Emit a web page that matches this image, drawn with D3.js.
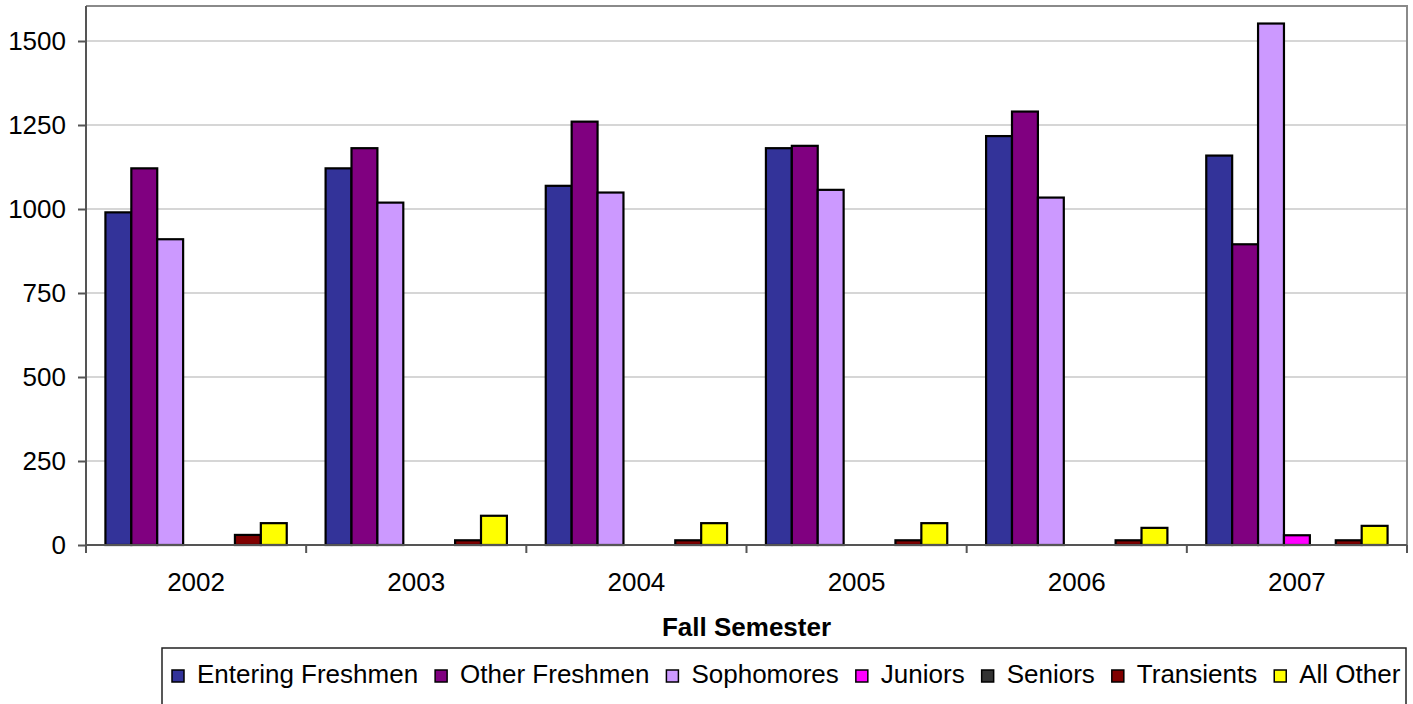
<!DOCTYPE html>
<html>
<head>
<meta charset="utf-8">
<script src="https://cdn.jsdelivr.net/npm/d3@7"></script>
<style>
  html, body { margin: 0; padding: 0; background: #ffffff; }
  svg { display: block; font-family: "Liberation Sans", Arial, sans-serif; }
</style>
</head>
<body>
<svg id="chart" width="1413" height="704"></svg>
<script>
// ---- data ----
const years = ["2002", "2003", "2004", "2005", "2006", "2007"];
const seriesNames = ["Entering Freshmen", "Other Freshmen", "Sophomores", "Juniors", "Seniors", "Transients", "All Other"];
const seriesColors = ["#333399", "#800080", "#CC99FF", "#FF00FF", "#333333", "#800000", "#FFFF00"];
const enteringFreshmen = [990, 1121, 1069, 1181, 1217, 1159];
const otherFreshmen    = [1121, 1181, 1260, 1188, 1290, 895];
const sophomores       = [910, 1019, 1049, 1057, 1034, 1552];
const juniors          = [0, 0, 0, 0, 0, 29];
const seniors          = [0, 0, 0, 0, 0, 0];
const transients       = [30, 14, 14, 14, 14, 14];
const allOther         = [65, 87, 65, 65, 51, 57];
const yTicks = [0, 250, 500, 750, 1000, 1250, 1500];
const xTitle = "Fall Semester";

const seriesValues = [enteringFreshmen, otherFreshmen, sophomores, juniors, seniors, transients, allOther];

// ---- layout ----
const svg = d3.select("#chart");
const plot = { left: 86, right: 1407, top: 6, bottom: 545 };
const fontSize = 26;

const y = d3.scaleLinear().domain([0, 1500]).range([plot.bottom, 41]);
const x0 = d3.scaleBand().domain(years).range([plot.left, plot.right]).paddingInner(0).paddingOuter(0);
const bw = x0.bandwidth();
const barW = bw / 8.5;
const x1 = d3.scaleBand().domain(seriesNames).range([0.75 * barW, bw - 0.75 * barW]).padding(0);

// gridlines
svg.append("g").selectAll("line").data(yTicks.filter(d => d > 0)).join("line")
  .attr("x1", plot.left).attr("x2", plot.right)
  .attr("y1", d => y(d)).attr("y2", d => y(d))
  .attr("stroke", "#c8c8c8").attr("stroke-width", 1.5);

// plot frame (top & right)
svg.append("path")
  .attr("d", `M${plot.left},${plot.top}H${plot.right}V${plot.bottom}`)
  .attr("fill", "none").attr("stroke", "#8a8a8a").attr("stroke-width", 2);

// bars
const groups = svg.append("g").selectAll("g").data(years).join("g")
  .attr("transform", d => `translate(${x0(d)},0)`);
groups.selectAll("rect")
  .data((yr, i) => seriesNames.map((s, k) => ({ s, k, v: seriesValues[k][i] })).filter(d => d.v > 0))
  .join("rect")
  .attr("x", d => x1(d.s))
  .attr("width", x1.bandwidth())
  .attr("y", d => y(d.v))
  .attr("height", d => y(0) - y(d.v))
  .attr("fill", d => seriesColors[d.k])
  .attr("stroke", "#000").attr("stroke-width", 2.2);

// y axis
const yAxis = d3.axisLeft(y).tickValues(yTicks).tickSize(8).tickPadding(12).tickFormat(d3.format("d"));
const gy = svg.append("g").attr("transform", `translate(${plot.left},0)`).call(yAxis);
gy.select(".domain").attr("stroke", "#555").attr("stroke-width", 2)
  .attr("d", `M0,${plot.top}V${plot.bottom}`);
gy.selectAll(".tick line").attr("stroke", "#555").attr("stroke-width", 2);
gy.selectAll(".tick text").attr("font-size", fontSize).attr("fill", "#000")
  .attr("font-family", "Liberation Sans, Arial, sans-serif");

// x axis
const gx = svg.append("g").attr("transform", `translate(0,${plot.bottom})`);
gx.append("line").attr("x1", plot.left).attr("x2", plot.right).attr("y1", 0).attr("y2", 0)
  .attr("stroke", "#555").attr("stroke-width", 2);
const boundaries = years.map(d => x0(d)).concat([x0(years[years.length - 1]) + bw]);
gx.selectAll("line.tk").data(boundaries).join("line").attr("class", "tk")
  .attr("x1", d => d).attr("x2", d => d).attr("y1", 0).attr("y2", 8)
  .attr("stroke", "#555").attr("stroke-width", 2);
gx.selectAll("text").data(years).join("text")
  .attr("x", d => x0(d) + bw / 2).attr("y", 39)
  .attr("text-anchor", "middle").attr("dominant-baseline", "middle")
  .attr("font-size", fontSize).attr("fill", "#000").text(d => d);

// x title
svg.append("text").attr("x", (plot.left + plot.right) / 2).attr("y", 629)
  .attr("text-anchor", "middle").attr("dominant-baseline", "middle")
  .attr("font-size", fontSize).attr("font-weight", "bold").attr("fill", "#000").text(xTitle);

// legend
const legend = svg.append("g");
legend.append("rect").attr("x", 162).attr("y", 648).attr("width", 1244).attr("height", 80)
  .attr("fill", "#fff").attr("stroke", "#222").attr("stroke-width", 1.5);
let lx = 172;
const ly = 676;
seriesNames.forEach((name, k) => {
  legend.append("rect").attr("x", lx).attr("y", ly - 6).attr("width", 12).attr("height", 12)
    .attr("fill", seriesColors[k]).attr("stroke", "#000").attr("stroke-width", 1.5);
  const t = legend.append("text").attr("x", lx + 25).attr("y", ly)
    .attr("dominant-baseline", "middle").attr("font-size", fontSize).attr("fill", "#000").text(name);
  lx += 25 + t.node().getComputedTextLength() + 17;
});
</script>
</body>
</html>
